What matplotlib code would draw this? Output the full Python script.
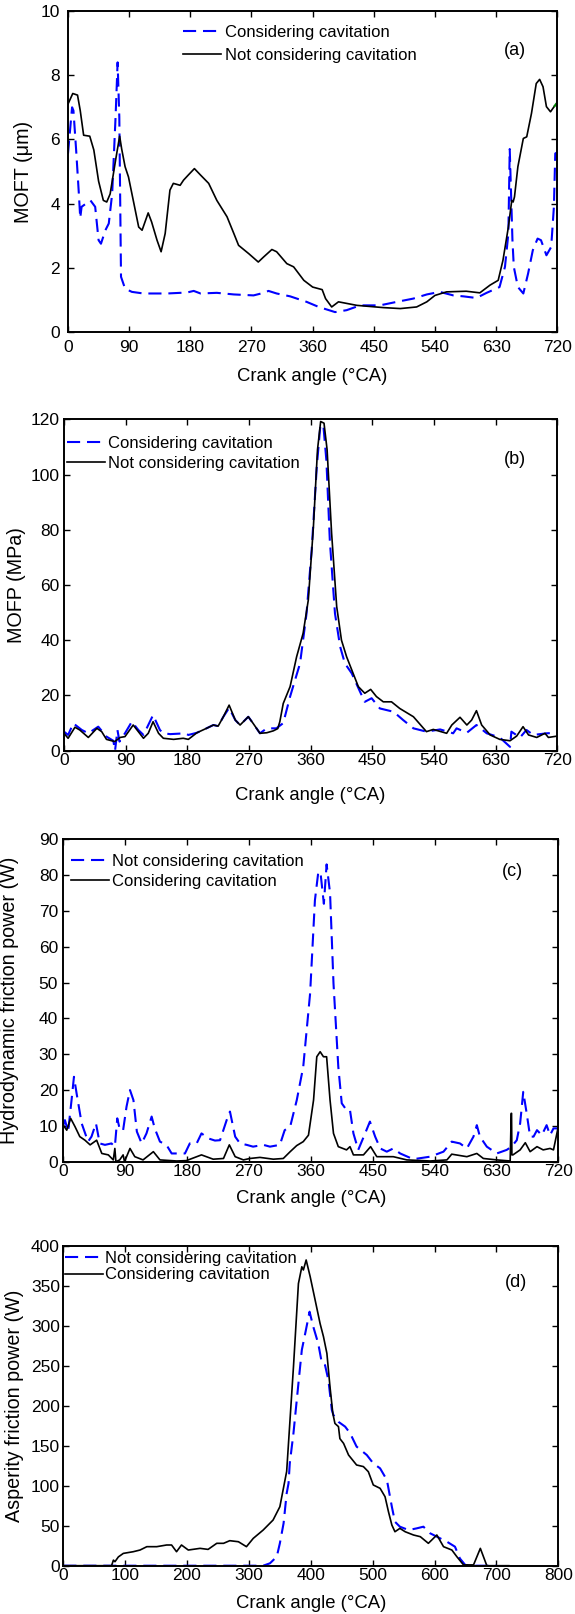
import matplotlib
matplotlib.use("Agg")
import matplotlib.pyplot as plt

plt.rcParams['font.family'] = ['Liberation Sans', 'DejaVu Sans']
plt.rcParams['font.size'] = 12

# ---------------- Panel (a): MOFT ----------------
a_cav_x = [0, 6, 8, 12, 16, 18, 20, 33, 40, 45, 48.5, 55, 60, 65, 70, 73, 75.5, 78, 84, 94, 111, 146, 175, 185,
           195, 219, 244, 273, 288, 295, 307, 327, 351, 369, 393, 410, 430, 459, 484, 508, 528, 547, 567, 582,
           601, 616, 635, 643, 648, 650, 654, 656, 662, 670, 677, 684, 691, 696, 704, 711, 715, 717, 720]
a_cav_y = [5.56, 7.0, 6.9, 5.66, 4.3, 3.55, 3.9, 4.1, 3.9, 2.86, 2.75, 3.17, 3.38, 4.31, 6.7, 8.4, 6.7, 1.72, 1.35,
           1.25, 1.2, 1.2, 1.23, 1.28, 1.2, 1.22, 1.17, 1.14, 1.22, 1.28, 1.2, 1.11, 0.94, 0.78, 0.62, 0.68, 0.83,
           0.83, 0.94, 1.04, 1.17, 1.25, 1.14, 1.11, 1.06, 1.22, 1.4, 2.03, 3.07, 5.7, 2.86, 2.03, 1.4, 1.2, 1.82,
           2.55, 2.91, 2.86, 2.39, 2.65, 3.9, 5.56, 5.6]
a_nocav_x = [0, 7, 14, 18, 23, 32, 38, 45, 52, 57, 62, 70, 76, 79, 84, 89, 97, 104, 109, 118, 123, 131, 137, 143,
             150, 155, 165, 170, 177, 186, 195, 207, 219, 234, 244, 251, 266, 280, 288, 300, 307, 322, 332, 347,
             360, 374, 379, 388, 398, 425, 464, 489, 513, 528, 540, 557, 586, 606, 621, 633, 640, 648, 653, 655,
             657, 662, 670, 675, 682, 689, 694, 699, 704, 710, 716]
a_nocav_y = [7.1, 7.43, 7.38, 6.9, 6.13, 6.1, 5.67, 4.7, 4.1, 4.05, 4.3, 5.35, 6.1, 5.7, 5.15, 4.83, 4.0, 3.27,
             3.17, 3.71, 3.43, 2.86, 2.5, 3.07, 4.42, 4.63, 4.57, 4.73, 4.89, 5.09, 4.89, 4.63, 4.1, 3.59, 3.07, 2.7,
             2.44, 2.18, 2.34, 2.57, 2.5, 2.13, 2.03, 1.61, 1.4, 1.32, 1.04, 0.78, 0.94, 0.83, 0.76, 0.73, 0.78, 0.94,
             1.14, 1.25, 1.27, 1.22, 1.46, 1.61, 2.23, 3.27, 4.1, 4.05, 4.21, 5.15, 6.03, 6.08, 6.81, 7.74, 7.87,
             7.64, 7.02, 6.86, 7.04]
a_green_x = [716, 718, 720]
a_green_y = [7.04, 7.1, 7.15]

# ---------------- Panel (b): MOFP ----------------
b_nocav_x = [0, 6, 16, 23, 35.5, 48, 55, 62, 74, 82, 89, 101, 108.5, 116, 123, 130, 138, 145, 160, 174, 181.5,
             194, 208, 218, 225, 232.6, 241, 250, 257, 269, 276, 286, 296, 305.6, 312, 315, 320, 330, 339.5, 349,
             356.6, 364, 370, 374.6, 379.5, 384, 390.6, 398, 405, 412.5, 422, 429.6, 439, 447.6, 456, 466, 478,
             490, 510, 529, 539, 558.5, 566, 578, 588, 595, 602, 609.6, 622, 636, 651, 660.7, 670, 678, 690, 702,
             707, 720]
b_nocav_y = [6.3, 4.5, 8.5, 7.5, 4.8, 8.1, 6.9, 4.1, 3.3, 4.8, 5.1, 9.3, 6.9, 4.5, 6.3, 10.5, 6.3, 4.5, 4.1, 4.5,
             4.1, 6.5, 8.1, 9.3, 8.9, 12.3, 16.5, 11.1, 9.3, 12.3, 9.9, 6.3, 6.5, 7.2, 8.0, 10.5, 17.1, 23.2, 34,
             42.5, 54.6, 81, 109, 119.2, 118.6, 109, 78.7, 52.2, 40, 34, 28, 23.2, 20.8, 22.2, 19.6, 17.7, 17.7,
             15.3, 12.3, 6.9, 7.7, 6.3, 9.3, 12.1, 9.3, 11.1, 14.5, 9.3, 5.7, 4.1, 3.6, 5.3, 8.7, 5.7, 4.8, 6.3,
             4.8, 5.3]
b_cav_x = [0, 6, 13.6, 26, 35.5, 50, 62, 72, 74.5, 78, 81, 89, 99, 108.5, 116, 130, 140, 145, 155, 177, 181.5,
           194, 208, 218, 225, 232.6, 241, 250, 257, 269, 276, 286, 296, 310, 320, 330, 344.5, 354, 361.5, 369,
           374, 378.5, 383, 388, 395.5, 403, 410, 420, 432, 439, 449, 461, 481, 495, 510, 529, 549, 568, 573,
           588, 602, 617, 636, 651, 653, 665.6, 675, 685, 704.5, 720]
b_cav_y = [6.9, 5.7, 9.9, 7.5, 6.3, 8.7, 5.1, 3.6, 0.0, 7.5, 3.3, 6.3, 10.5, 7.5, 5.7, 12.9, 7.5, 6.3, 6.0, 6.3,
           5.7, 6.5, 8.1, 9.3, 8.9, 12.3, 15.5, 11.1, 9.3, 12.3, 9.9, 6.3, 8.1, 8.1, 10.0, 19.6, 31.6, 49.7, 72.7,
           103, 117.3, 118, 105, 76, 49.7, 37.7, 31.6, 28, 21.4, 17.7, 19, 15.3, 14.1, 11.1, 8.1, 6.9, 7.7, 6.3,
           8.1, 6.5, 9.3, 6.3, 4.8, 1.4, 6.9, 4.8, 7.5, 5.7, 6.3, 6.5]

# ---------------- Panel (c): hydrodynamic friction power ----------------
c_nocav_x = [0, 2.4, 7, 12, 15.5, 19.4, 26.7, 36, 41, 47.5, 53, 60.6, 70, 75, 78.5, 82.4, 87, 92, 97, 102, 107,
             114, 121, 128.5, 133, 140.6, 150, 157.6, 177, 184, 194, 201, 211, 220.6, 228, 237.6, 242.4, 250, 257,
             266.7, 276, 291, 300.6, 315, 322, 330, 339.6, 349, 359, 366, 371, 374.5, 379, 383, 388, 393, 400,
             405, 412, 417, 422, 429, 439, 446, 453.6, 461, 470.5, 480, 490, 509, 533.6, 553, 565, 577, 587,
             596.6, 601.5, 606, 616, 630.5, 645, 652, 659.6, 664.5, 669, 674, 679, 684, 689, 696, 703, 708, 713,
             720]
c_nocav_y = [10.2, 11.6, 8.4, 17.2, 23.7, 19, 10.7, 5.6, 7, 10.7, 5.1, 4.7, 5.1, 4.2, 12.1, 8.8, 8.8, 15.4, 20,
             17.2, 8.4, 5.1, 7.9, 12.6, 9.3, 5.6, 4.7, 2.3, 2.3, 5.1, 5.1, 7.9, 6.5, 5.9, 6, 11.6, 14, 7, 5.1, 4.7,
             4.2, 4.7, 4.2, 4.7, 8.8, 9.8, 17.2, 26.5, 47, 73, 81, 80, 72, 83, 75, 49.8, 26.5, 16.3, 14.4, 14.4,
             7.9, 3.3, 7.9, 11.2, 7, 3.7, 2.8, 3.7, 2.3, 0.7, 1.4, 2.8, 5.6, 5.1, 3.7, 7, 10.2, 7, 4.2, 2.3, 3.3,
             4.2, 6, 10.7, 19.5, 13.5, 7, 7, 8.8, 7.4, 10.2, 7.4, 9.3, 9.3]
c_cav_x = [0, 5, 10.7, 17, 24, 31.5, 39, 48.5, 56, 65.5, 72.7, 75, 76.5, 82, 87, 89, 97, 104, 116, 131, 140.6,
           165, 179, 201, 218, 233, 241.5, 250, 262, 271.5, 286, 305.5, 320, 330, 339.5, 349, 356.6, 364, 368.7,
           373.6, 378.4, 383, 388, 393, 400, 412, 417, 422, 436.6, 447, 456, 480, 499.6, 533.6, 558, 565, 587,
           601.5, 611, 630.5, 650, 651.5, 652, 652.5, 654, 664.5, 672, 679, 689, 698, 708, 713, 720]
c_cav_y = [10.2, 8.8, 12.1, 9.8, 7, 6, 4.7, 6, 2.3, 1.9, 0.5, 3.7, 0, 0.5, 1.9, 0, 3.7, 1.4, 0.5, 2.8, 0.5, 0.2,
           0.3, 1.9, 0.7, 0.9, 4.7, 1.4, 0.5, 0.9, 1.2, 0.7, 0.9, 2.8, 4.5, 5.6, 7.4, 17.2, 29.3, 30.7, 29.3, 29.3,
           17.2, 7.9, 4.2, 3.3, 4.2, 1.9, 1.9, 4.2, 1.4, 1.4, 0.5, 0.2, 0.5, 2.1, 1.4, 2.3, 0.9, 0.5, 0.2, 13.5,
           13.5, 1.9, 1.9, 3.3, 5.3, 2.8, 4.2, 3.3, 3.7, 3.3, 9.8]

# ---------------- Panel (d): asperity friction power ----------------
d_nocav_x = [0, 100, 200, 300, 323, 334, 345, 350, 353, 356, 361, 364, 366, 372, 380, 385.5, 391, 398, 404, 412,
             418, 423, 428.5, 434, 436.6, 444.7, 455.5, 463.6, 474, 490.5, 501, 512, 523, 531, 536, 544, 558, 571,
             582, 593, 603.7, 620, 633, 641, 649.5, 660, 700]
d_nocav_y = [0, 0, 0, 0, 0, 3, 11.3, 28, 40.5, 53, 90.5, 103, 128, 166, 228, 270, 290.7, 317.8, 299, 278, 253,
             251, 232, 194.8, 188.5, 180, 174, 165.6, 149, 138.5, 128, 121.8, 107.2, 73.8, 55, 48.8, 44.6, 46.7,
             48.8, 40.5, 36.3, 30, 23.8, 9, 1, 0, 0]
d_cav_x = [0, 78, 81, 83.5, 89, 97, 113, 124, 135, 151, 167, 175, 183, 191, 202, 221, 234, 248, 259, 269, 283,
           296, 307, 323, 339, 350, 361, 372, 380, 385.5, 388, 392.5, 399, 407, 415, 420.5, 426, 431, 435.6, 439,
           444.7, 447, 453, 461, 474, 485, 493, 501, 512, 520, 525.5, 531, 536, 544, 552.5, 566, 577, 590, 603.7,
           614.5, 628, 636, 646.8, 663, 674, 684.5, 720]
d_cav_y = [0, 0, 7, 5, 11, 15.4, 17.5, 19.6, 23.8, 23.8, 25.9, 25.9, 17.5, 25.9, 19.6, 21.7, 20.4, 28, 28, 31.3,
           30, 23.8, 34.2, 44.6, 57.1, 73.8, 118, 249, 353, 374, 370, 382.5, 361.6, 332.4, 303, 286.5, 265.7, 224,
           190.6, 178, 174, 159, 153, 138.5, 126, 124, 117.6, 101, 96.8, 86.3, 67.6, 50.9, 42.5, 46.7, 42.5, 38.4,
           36.3, 28, 38.4, 23.8, 19.6, 11.3, 1, 1, 21.7, 0, 0]

XLABEL = 'Crank angle (°CA)'
BLUE = '#0000ff'
DASH = (6.3, 3.3)
TICK_FS = 12.5
XLAB_FS = 13.3
YLAB_FS = 14.2

fig = plt.figure(figsize=(5.75, 16.14), dpi=100)
W, H = 575.0, 1614.0


def make_ax(x0, x1, ytop, ybot):
    return fig.add_axes([x0 / W, 1 - ybot / H, (x1 - x0) / W, (ybot - ytop) / H])


def style(ax, xpad, ypad, xlab_y, ylab_x):
    for s in ax.spines.values():
        s.set_linewidth(1.4)
    ax.tick_params(direction='in', top=True, right=True, length=4, width=1.0, labelsize=TICK_FS)
    ax.tick_params(axis='x', pad=xpad)
    ax.tick_params(axis='y', pad=ypad)
    ax.xaxis.set_label_coords(0.5, xlab_y)
    ax.yaxis.set_label_coords(ylab_x, 0.5)


axa = make_ax(68, 557.3, 11, 332)
axb = make_ax(64, 557.3, 419.3, 750.7)
axc = make_ax(63.3, 558.3, 839.3, 1161.7)
axd = make_ax(63.3, 558.3, 1246, 1565.7)

# (a)
axa.plot(a_cav_x, a_cav_y, color=BLUE, lw=1.5, dashes=DASH, label='Considering cavitation')
axa.plot(a_nocav_x, a_nocav_y, color='black', lw=1.2, label='Not considering cavitation')
axa.plot(a_green_x, a_green_y, color='green', lw=1.5)
axa.set_xlim(0, 720); axa.set_ylim(0, 10)
axa.set_xticks(range(0, 721, 90)); axa.set_yticks(range(0, 11, 2))
axa.set_ylabel('MOFT (μm)', fontsize=YLAB_FS)
axa.set_xlabel(XLABEL, fontsize=XLAB_FS)
axa.legend(loc='upper left', bbox_to_anchor=(0.235, 0.956), frameon=False, borderpad=0, borderaxespad=0,
           handlelength=2.3, handletextpad=0.25, labelspacing=0.45, fontsize=12)
axa.text(0.914, 0.878, '(a)', transform=axa.transAxes, ha='center', va='center', fontsize=13)

# (b)
axb.plot(b_cav_x, b_cav_y, color=BLUE, lw=1.5, dashes=DASH, label='Considering cavitation')
axb.plot(b_nocav_x, b_nocav_y, color='black', lw=1.2, label='Not considering cavitation')
axb.set_xlim(0, 720); axb.set_ylim(0, 120)
axb.set_xticks(range(0, 721, 90)); axb.set_yticks(range(0, 121, 20))
axb.set_ylabel('MOFP (MPa)', fontsize=YLAB_FS)
axb.set_xlabel(XLABEL, fontsize=XLAB_FS)
axb.legend(loc='upper left', bbox_to_anchor=(0.006, 0.95), frameon=False, borderpad=0, borderaxespad=0,
           handlelength=2.3, handletextpad=0.15, labelspacing=0.3, fontsize=12)
axb.text(0.915, 0.878, '(b)', transform=axb.transAxes, ha='center', va='center', fontsize=13)

# (c)
axc.plot(c_nocav_x, c_nocav_y, color=BLUE, lw=1.5, dashes=DASH, label='Not considering cavitation')
axc.plot(c_cav_x, c_cav_y, color='black', lw=1.2, label='Considering cavitation')
axc.set_xlim(0, 720); axc.set_ylim(0, 90)
axc.set_xticks(range(0, 721, 90)); axc.set_yticks(range(0, 91, 10))
axc.set_ylabel('Hydrodynamic friction power (W)', fontsize=YLAB_FS)
axc.set_xlabel(XLABEL, fontsize=XLAB_FS)
axc.legend(loc='upper left', bbox_to_anchor=(0.015, 0.954), frameon=False, borderpad=0, borderaxespad=0,
           handlelength=2.3, handletextpad=0.15, labelspacing=0.3, fontsize=12)
axc.text(0.908, 0.9, '(c)', transform=axc.transAxes, ha='center', va='center', fontsize=13)

# (d)
axd.plot(d_nocav_x, d_nocav_y, color=BLUE, lw=1.5, dashes=DASH, label='Not considering cavitation')
axd.plot(d_cav_x, d_cav_y, color='black', lw=1.2, label='Considering cavitation')
axd.set_xlim(0, 800); axd.set_ylim(0, 400)
axd.set_xticks(range(0, 801, 100)); axd.set_yticks(range(0, 401, 50))
axd.set_ylabel('Asperity friction power (W)', fontsize=YLAB_FS)
axd.set_xlabel(XLABEL, fontsize=XLAB_FS)
axd.legend(loc='upper left', bbox_to_anchor=(0.0035, 0.985), frameon=False, borderpad=0, borderaxespad=0,
           handlelength=2.3, handletextpad=0.1, labelspacing=0.1, fontsize=12)
axd.text(0.915, 0.887, '(d)', transform=axd.transAxes, ha='center', va='center', fontsize=13)

style(axa, 5.8, 5.8, -0.113, -0.0715)
style(axb, 2.0, 3.0, -0.1095, -0.078)
style(axc, 2.0, 3.8, -0.088, -0.0885)
style(axd, 2.0, 2.4, -0.0917, -0.0804)

fig.savefig('out.png', dpi=100)
